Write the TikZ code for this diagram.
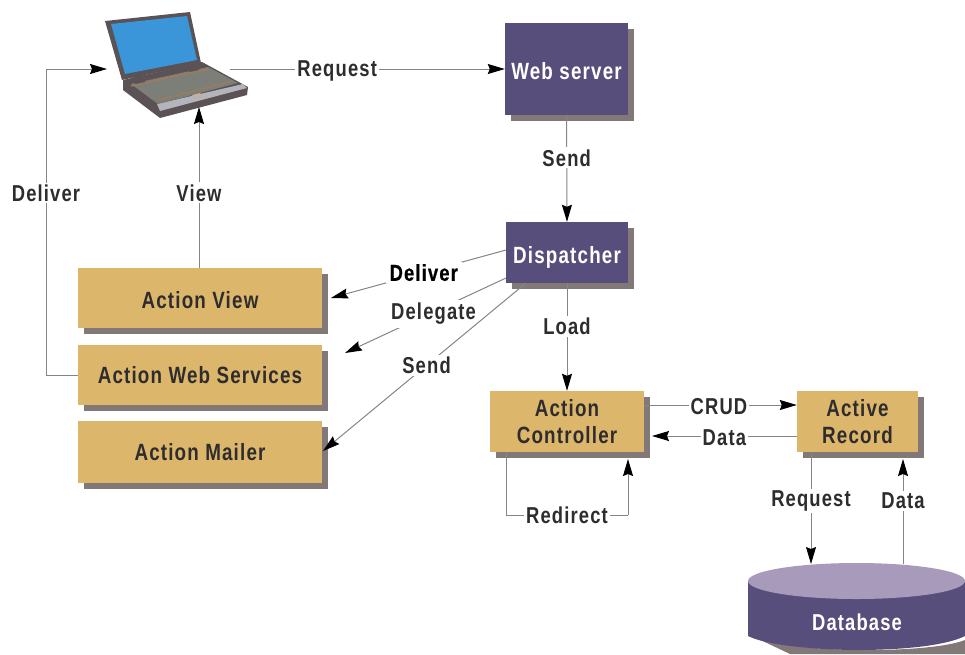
\documentclass[tikz,border=0pt]{standalone}
\usepackage{fontspec}
\setmainfont{Liberation Sans}[BoldFont={Liberation Sans Bold},FakeStretch=0.8,LetterSpace=5]
\usetikzlibrary{arrows.meta,shapes.geometric,shadows}
\definecolor{purp}{HTML}{574E7C}
\definecolor{lilac}{HTML}{A89ABB}
\definecolor{tan}{HTML}{DCB66B}
\definecolor{shad}{HTML}{837878}
\definecolor{ink}{HTML}{2E2C2E}
\definecolor{wire}{HTML}{858585}
\definecolor{screen}{HTML}{3A96D8}
\definecolor{lid}{HTML}{5A5254}
\definecolor{keys}{HTML}{7C7F78}
\definecolor{strip}{HTML}{B4B4BC}
\definecolor{row}{HTML}{A07A5E}
\tikzset{
 x=1pt,y=-1pt,
 lbl/.style={font=\fontsize{23}{24}\selectfont\bfseries,text=ink,fill=white,inner sep=2pt,align=center},
 box/.style={draw=none,minimum height=#1,inner sep=0pt,align=center,font=\fontsize{23.5}{27}\selectfont\bfseries,
   drop shadow={shadow xshift=6pt,shadow yshift=-6pt,fill=shad,opacity=1}},
 tanbox/.style={box=61pt,fill=tan,text=ink},
 purbox/.style={box=61pt,fill=purp,text=white},
 conn/.style={draw=wire,line width=1pt,-{Stealth[black,length=17pt,width=10pt,inset=2pt]}},
 wirep/.style={draw=wire,line width=1pt},
}
\begin{document}
\begin{tikzpicture}
\useasboundingbox (0,0) rectangle (965,654);
% boxes
\node[purbox,minimum width=123pt,minimum height=92pt] (web) at (566.5,69) {\rule{0pt}{22pt}Web server};
\node[purbox,minimum width=122pt] (disp) at (567,252.5) {\rule{0pt}{27pt}Dispatcher};
\node[tanbox,minimum width=244pt,minimum height=60pt] (view) at (200,298) {\rule{0pt}{22pt}Action View};
\node[tanbox,minimum width=244pt,minimum height=60pt] (aws) at (200,375) {Action Web Services};
\node[tanbox,minimum width=244pt,minimum height=62pt] (mail) at (200,452) {Action Mailer};
\node[tanbox,minimum width=154pt] (ctrl) at (567,421.5) {Action\\Controller};
\node[tanbox,minimum width=121pt] (rec) at (857.5,421.5) {Active\\Record};
% database
\fill[shad] (752,636) .. controls (790,654) and (930,654) .. (965,640) -- (965,654) -- (790,654) -- cycle;
\fill[purp] (748,581) -- (748,636) .. controls (770,647) and (830,650) .. (857,650) .. controls (900,650) and (945,646) .. (965,636) -- (965,581) -- cycle;
\node[ellipse,fill=lilac,minimum width=217pt,minimum height=36pt,inner sep=0pt] (dbtop) at (856.5,581) {};
\node[font=\fontsize{23}{24}\selectfont\bfseries,text=white,inner sep=0pt] (db) at (857,622) {Database};
% laptop
\coordinate (lapr) at (230,69);
\coordinate (lapb) at (199,107);
\fill[lid] (123,80) -- (202,62) -- (248,87) -- (247,95) -- (160,118) -- (123,90) -- cycle;
\fill[strip] (157,104) -- (243,84) -- (247,88) -- (160,111) -- cycle;
\fill[keys] (131,84) -- (208,67) -- (238,83) -- (158,104) -- cycle;
\draw[row,line width=1.5pt] (131,86) -- (208,69);
\draw[row,line width=1.3pt] (158,100) -- (233,81);
\fill[row!60!white] (192,95) -- (200,93) -- (203,96) -- (195,98) -- cycle;
\fill[lid] (133,76) -- (143,74) -- (145,82) -- (135,84) -- cycle;
\fill[lid] (187,64) -- (197,62) -- (199,70) -- (189,72) -- cycle;
\fill[lid] (105,21) -- (190,12) -- (201,63) -- (122,80) -- cycle;
\fill[screen] (111,24) -- (187,16) -- (197,60) -- (125,74) -- cycle;
% connectors
\draw[conn] (lapr) -- node[lbl,pos=0.39,yshift=-2pt] (lreq) {Request} (web.west |- lapr);
\draw[conn] (web.south) -- node[lbl,pos=0.4] (lsend) {Send} (disp.north);
\draw[conn] (disp.south) -- node[lbl,pos=0.4] (lload) {Load} (ctrl.north);
\coordinate (dl1) at (506,250);
\coordinate (vt) at (331,298);
\draw[conn] (dl1) -- node[lbl,pos=0.47,inner xsep=4pt,text=black] (ldel) {\addfontfeature{FakeBold=0.5}Deliver} (vt);
\coordinate (dl2) at (506,278);
\coordinate (at) at (345,353);
\draw[conn] (dl2) -- node[lbl,pos=0.45,inner sep=3pt,yshift=-2pt] (ldg) {Delegate} (at);
\coordinate (dl3) at (526,283);
\coordinate (mt) at (323,451);
\draw[conn] (dl3) -- node[lbl,pos=0.49] (lsn) {Send} (mt);
\draw[conn] (view.north -| lapb) -- node[lbl,pos=0.466] (lview) {View} (lapb);
\coordinate (c1) at (46,375);
\coordinate (c2) at (46,69);
\draw[wirep] (aws.west) -- (c1) -- (c2);
\draw[conn] (c2) -- (107,69);
\node[lbl] (ldv) at (46,193) {Deliver};
\coordinate (cr) at (ctrl.east |- 0,405);
\coordinate (rl) at (rec.west |- 0,405);
\draw[conn] (cr) -- node[lbl,pos=0.49,yshift=-2pt] (lcrud) {CRUD} (rl);
\coordinate (rd) at (rec.west |- 0,436);
\coordinate (cd) at (652,436);
\draw[conn] (rd) -- node[lbl,pos=0.5,yshift=-2pt] (lda) {Data} (cd);
\coordinate (rd1) at (506,452);
\coordinate (rd2) at (506,515);
\coordinate (rd3) at (628,515);
\coordinate (rd4) at (628,459);
\draw[wirep] (rd1) -- (rd2) -- (rd3);
\draw[conn] (rd3) -- (rd4);
\node[lbl] (lred) at (567,515) {Redirect};
\coordinate (r1) at (811,452);
\coordinate (d1) at (811,564);
\draw[conn] (r1) -- node[lbl,pos=0.43,yshift=-1pt] (lrq) {Request} (d1);
\coordinate (d2) at (903,564);
\coordinate (r2) at (903,459);
\draw[conn] (d2) -- node[lbl,pos=0.6] (ldt) {Data} (r2);
\end{tikzpicture}
\end{document}
